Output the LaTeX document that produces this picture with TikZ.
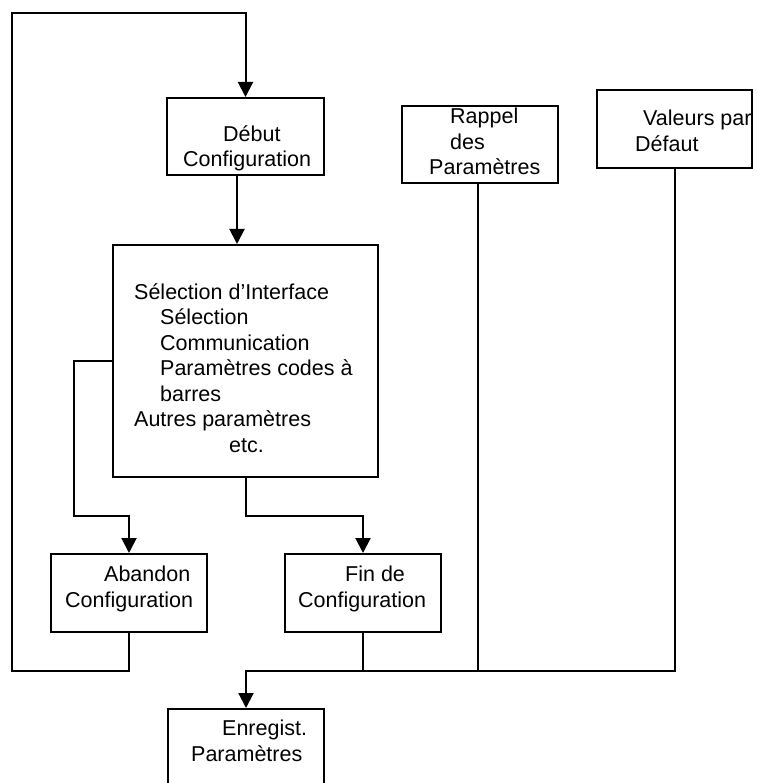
\documentclass[tikz,border=0pt]{standalone}
\usepackage{fontspec}
\setmainfont{Liberation Sans}
\usepackage{tikz}
\usetikzlibrary{arrows.meta}
\tikzset{
  box/.style={draw=black, line width=2pt, rectangle, inner sep=0pt},
  wire/.style={draw=black, line width=2pt},
  arr/.style={wire, -{Triangle[length=15pt,width=15pt]}},
  lab/.style={inner sep=0pt, align=left, anchor=base west,
    font=\fontsize{21.5pt}{25.5pt}\selectfont},
}

\begin{document}
\begin{tikzpicture}[x=1pt,y=-1pt]
  \useasboundingbox (0,0) rectangle (756,783);

  % boxes
  \node[box, minimum width=157, minimum height=77] (debut) at (245.5,136.5) {};
  \node[box, minimum width=265, minimum height=232] (selection) at (245.5,361) {};
  \node[box, minimum width=156, minimum height=77] (rappel) at (480,144.5) {};
  \node[box, minimum width=155, minimum height=78] (valeurs) at (674.5,129) {};
  \node[box, minimum width=156, minimum height=78] (abandon) at (129,593) {};
  \node[box, minimum width=156, minimum height=78] (fin) at (363,593) {};
  \node[box, minimum width=156, minimum height=80] (enregist) at (246,749) {};

  % texts (placed by the baseline of their last line)
  \node[lab] (tdebut) at (183,167) {\hspace*{40pt}Début\\Configuration};
  \node[lab] (tselection) at (134,452) {Sélection d’Interface\\
    \hspace*{26pt}Sélection\\\hspace*{26pt}Communication\\
    \hspace*{26pt}Paramètres codes à\\\hspace*{26pt}barres\\
    Autres paramètres\\\hspace*{95pt}etc.};
  \node[lab] (trappel) at (429,175) {\hspace*{21pt}Rappel\\\hspace*{21pt}des\\Paramètres};
  \node[lab] (tvaleurs) at (635,151.5) {\hspace*{8pt}Valeurs par\\Défaut};
  \node[lab] (tabandon) at (65,607) {\hspace*{39pt}Abandon\\Configuration};
  \node[lab] (tfin) at (298,607) {\hspace*{47pt}Fin de\\Configuration};
  \node[lab] (tenregist) at (191,761) {\hspace*{31pt}Enregist.\\Paramètres};

  \coordinate (loopbl) at (12,671);
  \coordinate (looptl) at (12,13);
  \coordinate (lbend) at (74,516);
  \coordinate (rbend) at (245.5,516);
  \coordinate (busleft) at (246,671);

  % connectors
  \draw[arr] (abandon.south) |- (loopbl) -- (looptl) -| (debut.north);
  \draw[arr] ([xshift=-8.5pt]debut.south) -- ([xshift=-8.5pt]selection.north);
  \draw[arr] (selection.west) -| (lbend) -| (abandon.north);
  \draw[arr] (selection.south) -- (rbend) -| (fin.north);
  \draw[arr] (valeurs.south) |- (busleft) -- (enregist.north);
  \draw[wire] (fin.south) -- (fin.south |- busleft);
  \draw[wire] ([xshift=-2pt]rappel.south) -- ([xshift=-2pt]rappel.south |- busleft);
\end{tikzpicture}
\end{document}
